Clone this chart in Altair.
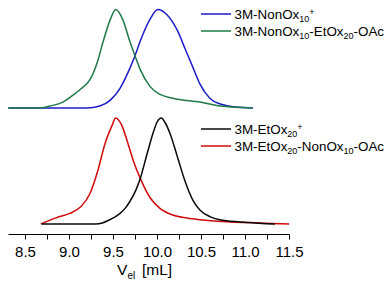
import altair as alt
import pandas as pd

# ---- data ----
BLUE_VEL = [8.31, 9.20, 9.35, 9.47, 9.58, 9.69, 9.75, 9.81, 9.92, 10.01, 10.11, 10.23, 10.32, 10.40, 10.49, 10.60, 10.72, 10.89, 11.09]
BLUE_H = [0, 0, 0.02, 0.08, 0.20, 0.40, 0.53, 0.68, 0.90, 1.0, 0.95, 0.79, 0.60, 0.43, 0.24, 0.10, 0.04, 0.01, 0]

GREEN_VEL = [8.31, 8.67, 8.78, 8.93, 9.03, 9.13, 9.24, 9.32, 9.39, 9.47, 9.53, 9.61, 9.69, 9.75, 9.81, 9.92, 10.03, 10.18, 10.49, 10.72, 11.09]
GREEN_H = [0, 0, 0.02, 0.06, 0.12, 0.19, 0.29, 0.46, 0.68, 0.90, 1.0, 0.90, 0.68, 0.53, 0.39, 0.22, 0.14, 0.10, 0.06, 0.02, 0]

RED_VEL = [8.68, 8.86, 9.01, 9.13, 9.24, 9.33, 9.41, 9.49, 9.53, 9.60, 9.67, 9.73, 9.81, 9.92, 10.03, 10.18, 10.34, 10.49, 10.83, 11.17, 11.50]
RED_H = [0, 0.06, 0.10, 0.16, 0.29, 0.51, 0.76, 0.93, 1.0, 0.93, 0.76, 0.60, 0.43, 0.25, 0.15, 0.085, 0.057, 0.04, 0.02, 0.01, 0]

BLACK_VEL = [8.69, 9.30, 9.38, 9.45, 9.52, 9.58, 9.64, 9.69, 9.76, 9.81, 9.89, 9.96, 10.00, 10.05, 10.09, 10.15, 10.23, 10.32, 10.41, 10.49, 10.60, 10.75, 11.02, 11.34]
BLACK_H = [0, 0, 0.01, 0.035, 0.065, 0.10, 0.15, 0.21, 0.32, 0.43, 0.67, 0.87, 0.96, 1.0, 0.96, 0.85, 0.64, 0.40, 0.22, 0.13, 0.07, 0.035, 0.015, 0]

SERIES = ["blue", "green", "red", "black"]
TICKS = [8.5, 8.75, 9.0, 9.25, 9.5, 9.75, 10.0, 10.25, 10.5, 10.75, 11.0, 11.25, 11.5]

LEGEND = {
    "blue": [("3M-NonOx", "n"), ("10", "sub"), ("+", "sup")],
    "green": [("3M-NonOx", "n"), ("10", "sub"), ("-EtOx", "n"), ("20", "sub"), ("-OAc", "n")],
    "black": [("3M-EtOx", "n"), ("20", "sub"), ("+", "sup")],
    "red": [("3M-EtOx", "n"), ("20", "sub"), ("-NonOx", "n"), ("10", "sub"), ("-OAc", "n")],
}

# ---- styling / layout ----
COLORS = {"blue": "#1c1cc8", "green": "#1e7a46", "red": "#d00a0a", "black": "#0a0a0a"}
OFFSET = {"blue": 1.0943, "green": 1.0943, "red": 0.0, "black": 0.0}
AMP = {"blue": 0.929, "green": 0.929, "red": 1.0, "black": 1.0}
X_DOMAIN = [8.307, 11.5]
Y_DOMAIN = [-0.0943, 2.0377]
W, H = 281, 226
FONT = "Liberation Sans"
LEG_LINE_Y = {"blue": 6, "green": 23, "black": 121, "red": 138}
LEG_X0, LEG_X1, TXT_X = 193, 223, 226.5
F_MAIN, F_SUB = 13.4, 9

CHAR_W = {"0": .556, "1": .556, "2": .556, "3": .556, "M": .833, "-": .333, "N": .722,
          "o": .556, "n": .556, "O": .778, "x": .5, "E": .667, "t": .278, "A": .667,
          "c": .5, "+": .584}


def text_width(s, size):
    return sum(CHAR_W.get(ch, 0.55) for ch in s) * size


raw = {"blue": (BLUE_VEL, BLUE_H), "green": (GREEN_VEL, GREEN_H),
       "red": (RED_VEL, RED_H), "black": (BLACK_VEL, BLACK_H)}
rows = []
for s in SERIES:
    vel, h = raw[s]
    for v, hh in zip(vel, h):
        rows.append({"series": s, "vel": v, "y": OFFSET[s] + AMP[s] * hh})
df = pd.DataFrame(rows)

x_enc = alt.X("vel:Q",
              scale=alt.Scale(domain=X_DOMAIN, nice=False, zero=False),
              axis=alt.Axis(values=TICKS, title=None, grid=False,
                            labelExpr="datum.value % 0.5 == 0 ? format(datum.value, '.1f') : ''",
                            tickSize=5, tickColor="black", tickWidth=1,
                            domainColor="black", domainWidth=1,
                            labelFont=FONT, labelFontSize=15, labelColor="black",
                            labelPadding=5, labelFlush=False, labelOverlap=False))
y_enc = alt.Y("y:Q", scale=alt.Scale(domain=Y_DOMAIN, nice=False, zero=False), axis=None)

layers = []
for s in SERIES:
    layers.append(
        alt.Chart(df).transform_filter(alt.datum.series == s)
        .mark_line(color=COLORS[s], strokeWidth=1.5, interpolate="monotone")
        .encode(x=x_enc, y=y_enc)
    )

one = alt.Data(values=[{}])
for s in ["blue", "green", "black", "red"]:
    ly = LEG_LINE_Y[s]
    layers.append(
        alt.Chart(one).mark_rule(color=COLORS[s], strokeWidth=1.5)
        .encode(x=alt.value(LEG_X0), x2=alt.value(LEG_X1), y=alt.value(ly))
    )
    base = ly + 5
    x = TXT_X
    for txt, kind in LEGEND[s]:
        size = F_MAIN if kind == "n" else F_SUB
        yy = base + (3 if kind == "sub" else (-4.5 if kind == "sup" else 0))
        layers.append(
            alt.Chart(one).mark_text(text=txt, align="left", baseline="alphabetic",
                                     font=FONT, fontSize=size, color="black")
            .encode(x=alt.value(x), y=alt.value(yy))
        )
        x += text_width(txt, size)

# axis title V_el [mL]
TITLE_PARTS = [("V", 15.5, 109, 267), ("el", 10, 119.5, 270.5), ("[mL]", 15.5, 134, 267)]
for txt, size, tx, ty in TITLE_PARTS:
    layers.append(
        alt.Chart(one).mark_text(text=txt, align="left", baseline="alphabetic",
                                 font=FONT, fontSize=size, color="black")
        .encode(x=alt.value(tx), y=alt.value(ty))
    )

chart = alt.layer(*layers).properties(
    width=W, height=H,
    padding={"left": 0, "top": 0, "right": 95, "bottom": 45},
    autosize=alt.AutoSizeParams(type="none"),
).configure_view(stroke=None)

chart.save("out.html", embed_options={"renderer": "svg", "actions": False})
